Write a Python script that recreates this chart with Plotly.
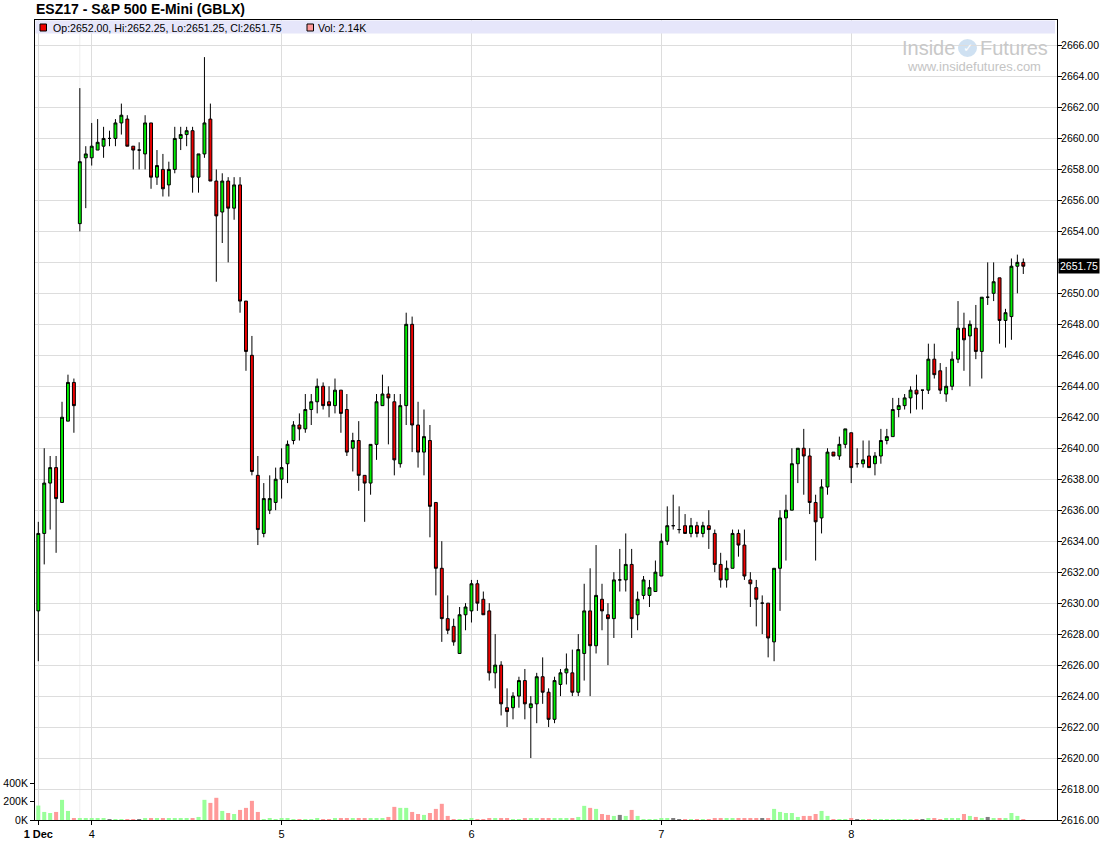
import plotly.graph_objects as go

# ---------------- data ----------------
opens = [2629.5, 2634.5, 2637.75, 2638.75, 2636.5, 2641.75, 2644.25, 2654.5, 2658.75, 2658.75,
         2659.25, 2659.5, 2660, 2660, 2661, 2661.25, 2659.5, 2659.25, 2659, 2661,
         2657.5, 2658, 2657, 2658, 2660, 2660.25, 2660.5, 2657.5, 2659, 2661.25,
         2657.25, 2655.25, 2657.25, 2655.5, 2657, 2649.5, 2646, 2638.25, 2634.5, 2636,
         2636.5, 2638, 2639, 2640.5, 2641.5, 2641.25, 2642.5, 2643, 2644, 2643,
         2642.75, 2643.75, 2642.5, 2640, 2640.5, 2638.25, 2637.75, 2640.25, 2642.75, 2643.5,
         2643, 2639, 2642.75, 2648, 2641.5, 2639.75, 2640.5, 2636.5, 2632.25, 2629,
         2628.5, 2626.75, 2629.25, 2629.5, 2631.25, 2630.25, 2629.5, 2625.5, 2626, 2623.25,
         2623.25, 2624, 2625, 2623.25, 2623.5, 2625.25, 2624.25, 2622.5, 2624.75, 2625.5,
         2625.5, 2624.25, 2626.75, 2629.5, 2627.25, 2630.25, 2629.25, 2629, 2631.5, 2631.5,
         2632.5, 2629.25, 2630.5, 2630.5, 2630.75, 2631.75, 2634, 2635, 2634.75, 2635,
         2634.5, 2635, 2634.5, 2635, 2634.5, 2632.5, 2631.5, 2632.25, 2634.5, 2633.75,
         2631.5, 2631, 2630, 2630, 2627.5, 2632.25, 2635.5, 2636, 2639, 2640,
         2639.5, 2636.5, 2635.5, 2637.5, 2639.75, 2639.5, 2640.25, 2641, 2639, 2639,
         2639.5, 2639, 2639.5, 2640.5, 2640.75, 2642.5, 2642.75, 2643.25, 2643.75, 2643.75,
         2643.75, 2645.75, 2645, 2643.5, 2644, 2645.75, 2647.75, 2647.25, 2647.75, 2646.25,
         2649.75, 2650, 2651, 2648.25, 2648.5, 2651.75, 2652]
highs = [2635.25, 2640, 2639.5, 2639.5, 2643, 2644.75, 2644.5, 2663.25, 2659.5, 2661,
         2661.25, 2660.75, 2660.5, 2661.25, 2662.25, 2661.5, 2659.5, 2659.75, 2661.5, 2661,
         2659.25, 2659, 2658.5, 2660.75, 2660.75, 2660.75, 2660.75, 2659, 2665.25, 2662.25,
         2658, 2657.75, 2657.5, 2657.5, 2657.5, 2649.5, 2647.25, 2639.5, 2637.75, 2638.25,
         2638.75, 2640, 2640.5, 2641.75, 2642.25, 2643.5, 2643.5, 2644.5, 2644.25, 2644,
         2644.5, 2643.75, 2643.5, 2641, 2641.75, 2638.25, 2640.25, 2643.5, 2644.75, 2644,
         2643.5, 2643.5, 2648.75, 2648.5, 2643, 2642.5, 2641.5, 2636.5, 2634, 2630.5,
         2629, 2629.75, 2630, 2631.5, 2631.5, 2630.75, 2630, 2628, 2626.25, 2624.5,
         2624.25, 2625.25, 2625.75, 2624, 2625.5, 2626.5, 2624.5, 2625.25, 2625.75, 2626.75,
         2627, 2628, 2631.25, 2632.25, 2633.75, 2631.25, 2630, 2632, 2633.5, 2634.5,
         2633.5, 2630.75, 2631.75, 2631.5, 2632.75, 2634.5, 2636.25, 2637, 2636.25, 2635.75,
         2635.5, 2635.25, 2635.25, 2636, 2634.75, 2633.25, 2632.75, 2634.75, 2634.75, 2634.75,
         2632, 2631.5, 2630.5, 2630, 2632.25, 2636, 2637, 2640, 2640, 2641.25,
         2640, 2637, 2638, 2640, 2639.75, 2640.75, 2641.25, 2641, 2640, 2640.5,
         2640.5, 2639.75, 2641.25, 2641.25, 2643.25, 2643.25, 2643.5, 2644, 2644.75, 2643.75,
         2646.75, 2646.75, 2645.5, 2645.25, 2646.25, 2649.5, 2648.75, 2648.25, 2649.25, 2649.75,
         2652, 2652, 2651, 2649, 2652.25, 2652.5, 2652.25]
lows = [2626.25, 2632.5, 2634.75, 2633.25, 2636.5, 2641.75, 2641, 2654, 2655.5, 2658.25,
        2659.25, 2658.75, 2659.5, 2659.5, 2660.25, 2659.5, 2658, 2658, 2658, 2656.75,
        2657, 2656.25, 2656.25, 2657.75, 2659.25, 2659.5, 2656.5, 2656.5, 2658.75, 2657.25,
        2650.75, 2653.25, 2652, 2654.75, 2648.75, 2645, 2638.25, 2633.75, 2634.25, 2635.75,
        2636, 2636.75, 2637.75, 2640.25, 2640.5, 2641, 2641.5, 2642.25, 2642.5, 2642,
        2642.25, 2641, 2639.5, 2638.5, 2637.25, 2635.25, 2637, 2639.25, 2642.75, 2640.25,
        2638.25, 2638.75, 2641.5, 2639.75, 2638.75, 2638.25, 2634.25, 2630.5, 2627.5, 2628,
        2627.25, 2626.75, 2628.25, 2628.75, 2629.5, 2629.25, 2625, 2624.5, 2622.75, 2622,
        2622.5, 2623.25, 2622.5, 2620, 2622.25, 2623.5, 2622, 2622.25, 2624, 2624.75,
        2624, 2624, 2625, 2624, 2626.75, 2628.25, 2626, 2627.75, 2630.75, 2630.75,
        2627.75, 2628.25, 2630.25, 2629.75, 2630.75, 2631.75, 2633.75, 2634.75, 2634.5, 2634.5,
        2634.25, 2634.25, 2634.25, 2633.5, 2632, 2631, 2631, 2632.25, 2633, 2631.5,
        2629.75, 2628.5, 2628, 2626.5, 2626.25, 2629.5, 2632.75, 2636, 2637.75, 2637,
        2635.75, 2632.75, 2634.5, 2637, 2639.5, 2639.25, 2640, 2637.75, 2638.75, 2638.75,
        2638.75, 2638.25, 2639, 2640.25, 2640.75, 2642, 2642.5, 2642.25, 2642.5, 2642.5,
        2643.5, 2644.5, 2643.5, 2643, 2643.75, 2645.5, 2645, 2644, 2645.75, 2644.5,
        2649.25, 2649.5, 2646.75, 2646.5, 2647, 2650, 2651.25]
closes = [2634.5, 2637.75, 2638.75, 2636.75, 2642, 2644.25, 2642.75, 2658.5, 2659, 2659.5,
          2659.75, 2660, 2660, 2661, 2661.5, 2659.5, 2659.25, 2659.25, 2661, 2657.5,
          2658.25, 2656.75, 2658, 2660, 2660.25, 2660.5, 2657.5, 2659, 2661, 2657.25,
          2655, 2657.25, 2655.5, 2657, 2649.5, 2646.25, 2638.5, 2634.75, 2636.75, 2636.75,
          2638, 2638.75, 2640.25, 2641.5, 2641.25, 2642.5, 2643, 2644, 2642.75, 2642.75,
          2643.75, 2642.25, 2639.75, 2640.5, 2638.25, 2637.75, 2640.25, 2643, 2643.5, 2643.25,
          2639.25, 2642.75, 2648, 2641.5, 2639.75, 2640.75, 2636.25, 2632.25, 2629, 2628.25,
          2627.5, 2629.25, 2629.75, 2631.25, 2630, 2629.25, 2625.5, 2626, 2623.5, 2623,
          2624, 2625, 2623.5, 2623.5, 2625.25, 2624.25, 2622.5, 2625, 2625.5, 2625.75,
          2624.25, 2627, 2629.5, 2627.25, 2630.5, 2629.5, 2629, 2631.5, 2631.5, 2632.5,
          2629, 2630.25, 2631.5, 2631, 2632, 2634, 2635, 2635, 2634.75, 2634.5,
          2635, 2634.5, 2635, 2634.75, 2632.5, 2631.5, 2632.25, 2634.5, 2633.75, 2631.75,
          2631.25, 2630.25, 2630, 2627.75, 2632.25, 2635.5, 2636, 2639, 2640, 2639.5,
          2636.5, 2635.25, 2637.5, 2639.75, 2639.5, 2640.25, 2641.25, 2638.75, 2639, 2639.25,
          2638.75, 2639.5, 2640.5, 2640.75, 2642.5, 2642.75, 2643.25, 2643.75, 2643.5, 2643.75,
          2645.75, 2644.75, 2643.75, 2644, 2645.75, 2647.75, 2647, 2648, 2646.25, 2649.75,
          2649.75, 2650.75, 2648.25, 2648.75, 2651.75, 2652, 2651.75]
volumes_k = [156, 87, 76, 87, 218, 98, 15, 22, 11, 11,
             11, 11, 4, 4, 4, 4, 4, 4, 11, 22,
             22, 11, 11, 11, 11, 11, 22, 33, 218, 185,
             240, 98, 76, 65, 109, 131, 207, 87, 5, 11,
             5, 11, 11, 5, 5, 5, 5, 11, 4, 4,
             11, 11, 11, 11, 22, 22, 11, 22, 22, 33,
             142, 131, 131, 87, 65, 55, 76, 120, 175, 44,
             4, 4, 4, 11, 4, 4, 11, 11, 11, 11,
             5, 4, 11, 22, 22, 11, 11, 11, 11, 11,
             22, 33, 153, 131, 120, 65, 55, 44, 55, 44,
             109, 44, 4, 4, 4, 11, 11, 11, 4, 4,
             4, 4, 4, 4, 11, 11, 11, 11, 11, 11,
             11, 22, 22, 22, 120, 87, 76, 76, 33, 44,
             44, 65, 98, 44, 4, 4, 4, 11, 4, 4,
             4, 4, 4, 4, 4, 4, 4, 4, 4, 4,
             11, 11, 4, 11, 11, 22, 65, 44, 33, 22,
             33, 22, 22, 22, 76, 44, 2.14]

day_tick_pos = [0, 9, 41, 73, 105, 137]
day_tick_text = ["<b>1 Dec</b>", "4", "5", "6", "7", "8"]
session_line_pos = 7
price_ticks = list(range(2616, 2667, 2))
vol_tickvals = [0, 200000, 400000]
vol_ticktext = ["0K", "200K", "400K"]
title_text = "ESZ17 - S&P 500 E-Mini (GBLX)"
legend_text = "Op:2652.00, Hi:2652.25, Lo:2651.25, Cl:2651.75"
vol_legend_text = "Vol: 2.14K"
last_price = 2651.75

# ---------------- figure ----------------
W, H = 1100, 861
ML, MR, MT, MB = 35, 43, 20, 41
PW, PH = W - ML - MR, H - MT - MB
FONT = "Arial, 'Liberation Sans', sans-serif"

def px_x(p):
    return (p - ML) / PW

def px_y(p):
    return (H - MB - p) / PH

n = len(opens)
xs = list(range(n))
vols = [v * 1000 for v in volumes_k]
vcol = []
for o, c in zip(opens, closes):
    if c > o:
        vcol.append("#99ff99")
    elif c < o:
        vcol.append("#ff9999")
    else:
        vcol.append("#7f7f7f")

# the last-price box hides the tick label beneath it
price_ticktext = ["" if abs(t - last_price) < 1.0 else "%.2f" % t for t in price_ticks]

fig = go.Figure()
fig.add_trace(go.Bar(x=xs, y=vols, yaxis="y2", marker=dict(color=vcol, line=dict(width=0)),
                     width=0.68, hoverinfo="skip", showlegend=False))
fig.add_trace(go.Candlestick(
    x=xs, open=opens, high=highs, low=lows, close=closes,
    increasing=dict(fillcolor="#00ee00", line=dict(color="black", width=1)),
    decreasing=dict(fillcolor="#ee0000", line=dict(color="black", width=1)),
    whiskerwidth=0, showlegend=False, yaxis="y"))

x_min = -(38.3 - ML) / 5.934
x_max = (n - 1) + (ML + PW - 1023.3) / 5.934

fig.update_layout(
    width=W, height=H,
    margin=dict(l=ML, r=MR, t=MT, b=MB, pad=0, autoexpand=False),
    paper_bgcolor="white", plot_bgcolor="white",
    font=dict(family=FONT, size=11, color="black"),
    showlegend=False,
    boxgap=0.3,
    xaxis=dict(range=[x_min, x_max], rangeslider=dict(visible=False), automargin=False,
               tickmode="array", tickvals=day_tick_pos, ticktext=day_tick_text,
               showgrid=True, gridcolor="#dddddd", gridwidth=1, zeroline=False,
               ticks="outside", ticklen=4, tickcolor="black",
               showline=True, linecolor="black", linewidth=1, mirror=True,
               tickfont=dict(size=11, family=FONT)),
    yaxis=dict(range=[2616, 2616 + PH / 15.49], side="right", automargin=False,
               tickmode="array", tickvals=price_ticks, ticktext=price_ticktext,
               showgrid=True, gridcolor="#dddddd", gridwidth=1, zeroline=False,
               ticks="outside", ticklen=4, tickcolor="black", ticklabelstandoff=-3,
               showline=True, linecolor="black", linewidth=1, mirror=True,
               tickfont=dict(size=10.5, family=FONT)),
    yaxis2=dict(overlaying="y", side="left", range=[0, PH / 18.5 * 200000], automargin=False,
                tickmode="array", tickvals=vol_tickvals, ticktext=vol_ticktext,
                showgrid=False, zeroline=False, showline=False,
                ticks="outside", ticklen=4, tickcolor="black",
                tickfont=dict(size=10.5, family=FONT)),
)

shapes = []
shapes.append(dict(type="line", xref="x", yref="paper", x0=session_line_pos, x1=session_line_pos,
                   y0=0, y1=1, line=dict(color="#eeeeee", width=1), layer="below"))
shapes.append(dict(type="rect", xref="paper", yref="paper", x0=px_x(35.5), x1=px_x(1055),
                   y0=px_y(33.5), y1=px_y(20.5), fillcolor="#e6e6fa", line=dict(width=0),
                   layer="above"))
shapes.append(dict(type="rect", xref="paper", yref="paper", x0=px_x(40), x1=px_x(46.5),
                   y0=px_y(31), y1=px_y(24), fillcolor="#ee0000",
                   line=dict(color="black", width=1), layer="above"))
shapes.append(dict(type="rect", xref="paper", yref="paper", x0=px_x(307), x1=px_x(313.5),
                   y0=px_y(31), y1=px_y(24), fillcolor="#ff9999",
                   line=dict(color="black", width=1), layer="above"))
shapes.append(dict(type="circle", xref="paper", yref="paper", x0=px_x(958), x1=px_x(977),
                   y0=px_y(57), y1=px_y(39), fillcolor="#cfe1f2", line=dict(width=0),
                   layer="below"))
fig.update_layout(shapes=shapes)

ann = []
ann.append(dict(text="<b>" + title_text.replace("&", "&amp;") + "</b>", xref="paper", yref="paper",
                x=px_x(34), y=px_y(9.5), xanchor="left", yanchor="middle", showarrow=False,
                font=dict(size=14, family=FONT, color="black")))
ann.append(dict(text=legend_text, xref="paper", yref="paper", x=px_x(51), y=px_y(27.5),
                xanchor="left", yanchor="middle", showarrow=False,
                font=dict(size=10.6, family=FONT, color="black")))
ann.append(dict(text=vol_legend_text, xref="paper", yref="paper", x=px_x(316), y=px_y(27.5),
                xanchor="left", yanchor="middle", showarrow=False,
                font=dict(size=10.6, family=FONT, color="black")))
ann.append(dict(text="Inside", xref="paper", yref="paper", x=px_x(957), y=px_y(47.5),
                xanchor="right", yanchor="middle", showarrow=False,
                font=dict(size=20, family=FONT, color="#c8c8c8")))
ann.append(dict(text="✓", xref="paper", yref="paper", x=px_x(967.5), y=px_y(48),
                xanchor="center", yanchor="middle", showarrow=False,
                font=dict(size=12, family="DejaVu Sans", color="white")))
ann.append(dict(text="Futures", xref="paper", yref="paper", x=px_x(977.5), y=px_y(47.5),
                xanchor="left", yanchor="middle", showarrow=False,
                font=dict(size=20, family=FONT, color="#c8c8c8")))
ann.append(dict(text="www.insidefutures.com", xref="paper", yref="paper", x=px_x(974), y=px_y(67),
                xanchor="center", yanchor="middle", showarrow=False,
                font=dict(size=13, family=FONT, color="#c4c4c4")))
ann.append(dict(text="%.2f" % last_price, xref="paper", yref="y", x=1, y=last_price,
                xanchor="left", yanchor="middle", xshift=1, showarrow=False,
                bgcolor="black", borderpad=1,
                font=dict(size=10.5, family=FONT, color="white")))
fig.update_layout(annotations=ann)

fig.write_html("out.html", config={"displayModeBar": False},
               post_script="document.body.style.margin='0';")
